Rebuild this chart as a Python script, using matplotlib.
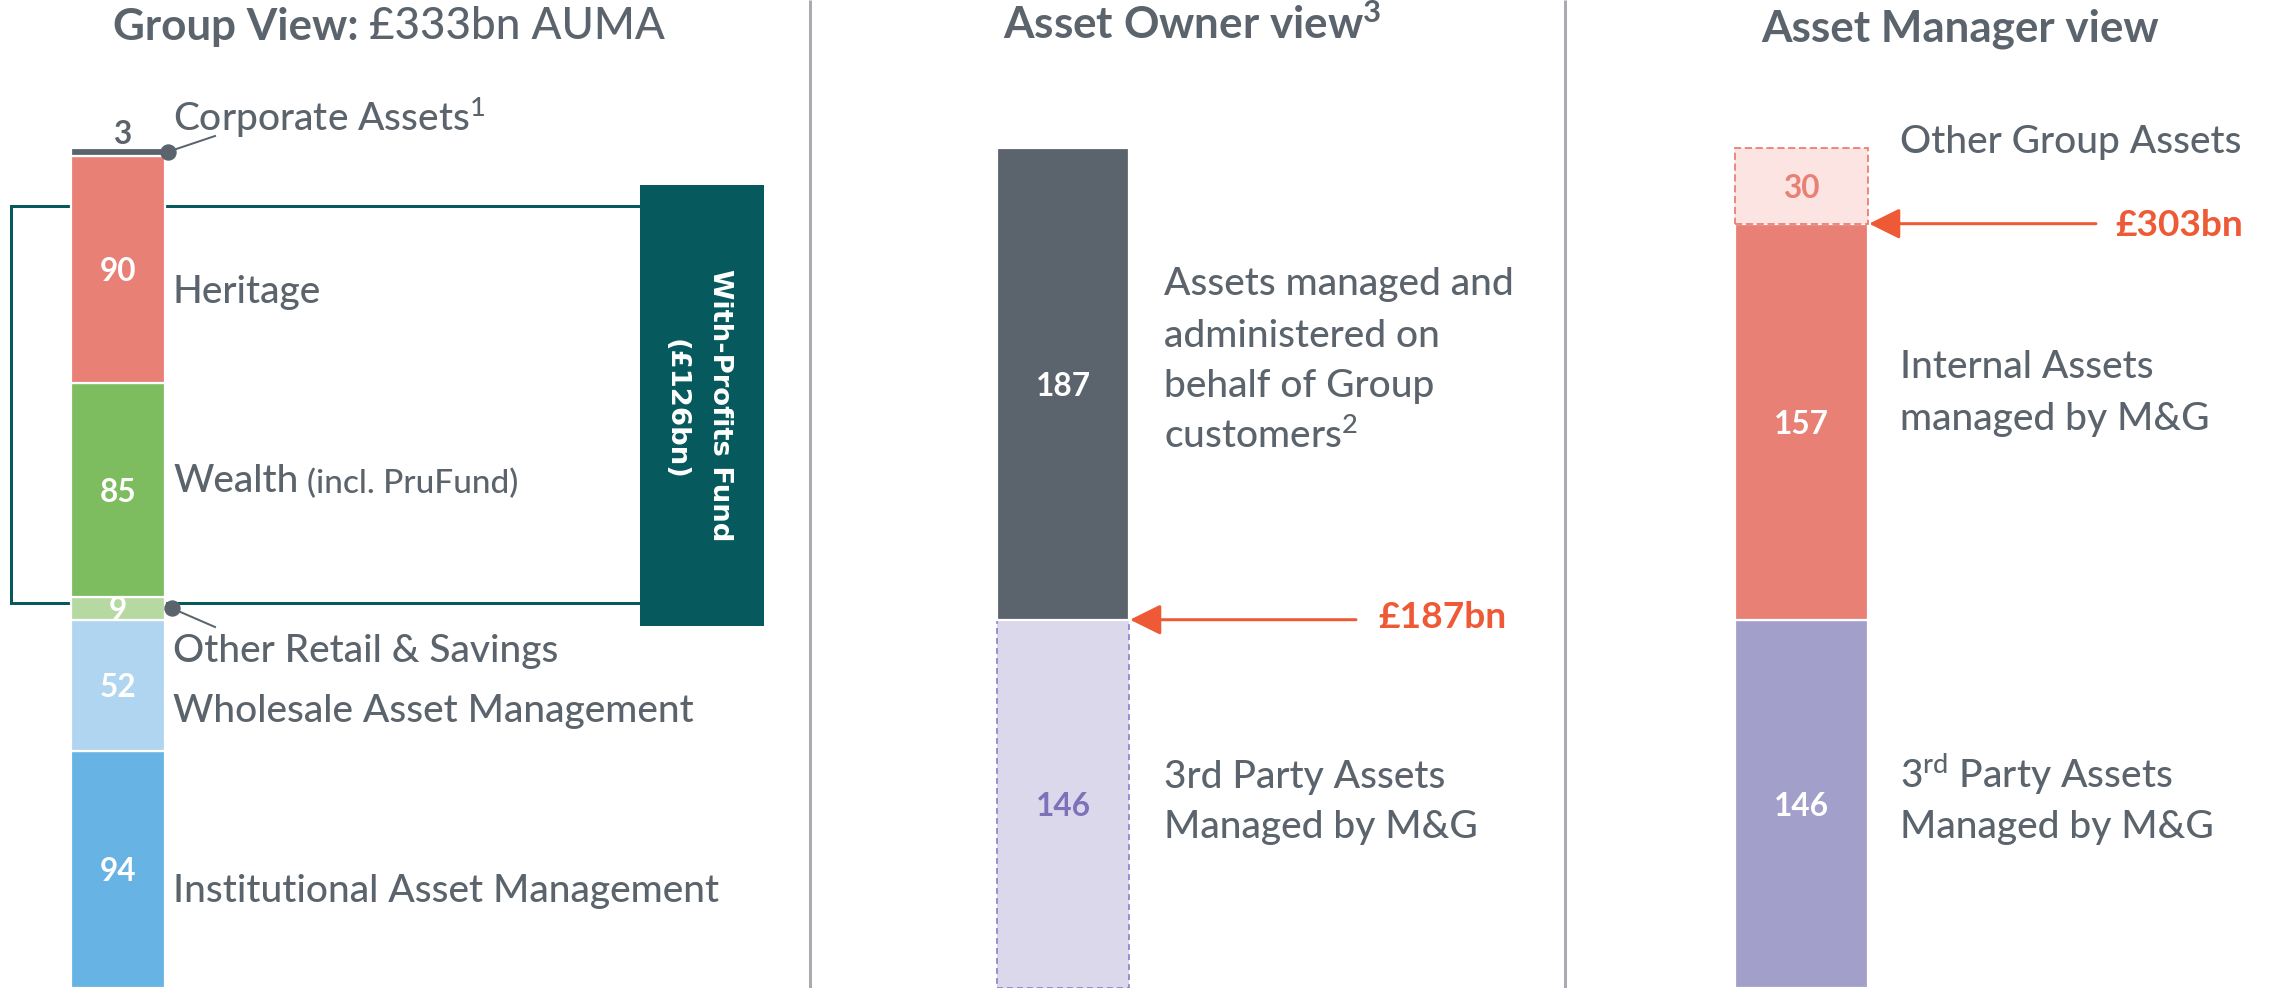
import numpy as np
import matplotlib
matplotlib.use("Agg")
import matplotlib.pyplot as plt
from matplotlib.patches import Rectangle

# ---------------- data (£bn) ----------------
group_categories = ["Institutional Asset Management", "Wholesale Asset Management",
                    "Other Retail & Savings", "Wealth", "Heritage", "Corporate Assets"]
group_values = [94, 52, 9, 85, 90, 3]

owner_categories = ["3rd Party Assets Managed by M&G",
                    "Assets managed and administered on behalf of Group customers"]
owner_values = [146, 187]

manager_categories = ["3rd Party Assets Managed by M&G",
                      "Internal Assets managed by M&G", "Other Group Assets"]
manager_values = [146, 157, 30]

with_profits_total = 126

# display text for labels (line broken as in the original)
group_label_text = ["Institutional Asset Management", "Wholesale Asset Management",
                    "Other Retail & Savings", "Wealth", "Heritage",
                    r"Corporate Assets$^{\mathrm{1}}$"]
owner_label_lines = [["3rd Party Assets", "Managed by M&G"],
                     ["Assets managed and", "administered on", "behalf of Group",
                      r"customers$^{\mathrm{2}}$"]]
manager_label_lines = [[r"3$^{\mathrm{rd}}$ Party Assets", "Managed by M&G"],
                       ["Internal Assets", "managed by M&G"],
                       ["Other Group Assets"]]

# ---------------- style ----------------
plt.rcParams['font.family'] = ['Lato', 'DejaVu Sans']
plt.rcParams['mathtext.fontset'] = 'custom'
plt.rcParams['mathtext.rm'] = 'Lato:medium'
plt.rcParams['mathtext.it'] = 'Lato:italic'
plt.rcParams['mathtext.bf'] = 'Lato:bold'

REG = 'medium'
GRAY = '#5B646C'
TEAL = '#065A5D'
ORANGE = '#EE5A35'
DIVIDER = '#A8ABB0'
SALMON = '#E88076'
group_colors = ['#66B3E4', '#AFD5F1', '#B5D9A1', '#7DBD5F', SALMON, GRAY]
group_value_colors = ['white', 'white', 'white', 'white', 'white', GRAY]
owner_colors = ['#DCD8EB', GRAY]
owner_value_colors = ['#7D72B9', 'white']
owner_dash_edge = '#8C7DC7'
manager_colors = ['#A39FCB', SALMON, '#FBE4E2']
manager_value_colors = ['white', 'white', SALMON]

W, H, DPI = 2270, 988, 100
S = 2.5225                      # pixels per £bn
PX = 72.0 / DPI                 # points per pixel

fig = plt.figure(figsize=(W / DPI, H / DPI), dpi=DPI)
fig.patch.set_facecolor('white')
ax = fig.add_axes([0, 0, 1, 1])
ax.set_xlim(0, W)
ax.set_ylim(0, H / S)
ax.axis('off')


def Y(py):
    """layout helper: pixel row from top -> axis units"""
    return (H - py) / S


renderer = fig.canvas.get_renderer()


def fit(text, target, **kw):
    t = fig.text(0, 0, text, fontsize=20, **kw)
    w = t.get_window_extent(renderer=renderer).width
    t.remove()
    return 20.0 * target / w


LABEL = float(np.mean([fit("Institutional Asset Management", 550, weight=REG),
                       fit("Other Group Assets", 336, weight=REG),
                       fit("Assets managed and", 352, weight=REG)]))
SMALL = LABEL * 0.86
VALUE = fit("187", 55, weight='bold')
ORANGE_SZ = fit("£187bn", 128, weight='bold')
TITLE = fit("Asset Manager view", 398, weight='bold')
BOX = fit("With-Profits Fund", 273, family='DejaVu Sans', weight='bold')

# bar geometry (layout)
gx, gw = 118, 94
ox, ow = 1063, 132
mx, mw = 1801.5, 133


def stacked(xc, width, values, faces):
    bottoms = np.concatenate([[0], np.cumsum(values)[:-1]])
    bars = ax.bar(np.full(len(values), xc), values, width=width, bottom=bottoms,
                  color=faces, edgecolor='white', linewidth=1.6, zorder=3)
    return list(bars), bottoms


# ---------------- dividers ----------------
for xd in (809.5, 1565):
    ax.plot([xd, xd], [0, H / S], color=DIVIDER, lw=3 * PX, zorder=1,
            solid_capstyle='butt')

# ---------------- titles ----------------
t_group = ax.text(113, Y(40), "Group View:", fontsize=TITLE, fontweight='bold',
                  color=GRAY, ha='left', va='baseline')
ax.annotate(f"£{sum(group_values)}bn AUMA", xy=(1, 0), xycoords=t_group,
            xytext=(10, 0), textcoords='offset pixels', fontsize=TITLE,
            fontweight=REG, color=GRAY, ha='left', va='bottom')
ax.text(1003, Y(39), r"Asset Owner view$^{\mathbf{3}}$", fontsize=TITLE,
        fontweight='bold', color=GRAY, ha='left', va='baseline')
ax.text(1761, Y(41), "Asset Manager view", fontsize=TITLE, fontweight='bold',
        color=GRAY, ha='left', va='baseline')

# ---------------- group view ----------------
# With-Profits bracket and box
ax.plot([640, 11, 11, 640], [Y(205.5), Y(205.5), Y(603), Y(603)],
        color=TEAL, lw=3 * PX, zorder=2, solid_joinstyle='miter')
ax.add_patch(Rectangle((640, Y(626)), 124, (626 - 185) / S, facecolor=TEAL,
                       edgecolor='none', zorder=3))
ax.text(720, Y(405), "With-Profits Fund", rotation=270, ha='center', va='center',
        color='white', family='DejaVu Sans', fontweight='bold', fontsize=BOX, zorder=4)
ax.text(676, Y(409), f"(£{with_profits_total}bn)", rotation=270, ha='center',
        va='center', color='white', family='DejaVu Sans', fontweight='bold',
        fontsize=BOX, zorder=4)

g_bars, g_bottoms = stacked(gx, gw, group_values, group_colors)
for i, (v, b) in enumerate(zip(group_values, g_bottoms)):
    if i == len(group_values) - 1:
        ax.annotate(str(v), xy=(gx + 4, b + v), xytext=(0, 4),
                    textcoords='offset pixels', ha='center', va='baseline',
                    fontsize=VALUE, fontweight='bold', color=group_value_colors[i],
                    zorder=6)
    else:
        ax.text(gx, b + v / 2, str(v), ha='center', va='center_baseline',
                fontsize=VALUE, fontweight='bold', color=group_value_colors[i],
                zorder=6)

# leader dots (Corporate Assets and Other Retail & Savings)
corp_y = g_bottoms[5] + group_values[5] / 2
ors_y = g_bottoms[2] + group_values[2] / 2
for dx, yv, ty in [(gx + gw / 2 + 3, corp_y, 136), (gx + gw / 2 + 7, ors_y, 627)]:
    ax.plot([dx, 215], [yv, Y(ty)], color=GRAY, lw=2 * PX, zorder=5)
    ax.plot([dx], [yv], 'o', ms=15 * PX, color=GRAY, zorder=6)

group_label_baselines = [902, 722, 662, 492, 303, 131]
g_txt = []
for txt, bl in zip(group_label_text, group_label_baselines):
    g_txt.append(ax.text(173, Y(bl), txt, fontsize=LABEL, fontweight=REG,
                         color=GRAY, ha='left', va='baseline'))
ax.annotate("(incl. PruFund)", xy=(1, 0), xycoords=g_txt[3], xytext=(9, 0),
            textcoords='offset pixels', fontsize=SMALL, fontweight=REG, color=GRAY,
            ha='left', va='bottom')

# ---------------- asset owner view ----------------
o_bars, o_bottoms = stacked(ox, ow, owner_values, owner_colors)
o_bars[0].set_edgecolor(owner_dash_edge)
o_bars[0].set_linestyle((0, (3.5, 2.5)))
o_bars[0].set_linewidth(1.2)
o_bars[1].set_zorder(4)
for i, (v, b) in enumerate(zip(owner_values, o_bottoms)):
    ax.text(ox, b + v / 2, str(v), ha='center', va='center_baseline',
            fontsize=VALUE, fontweight='bold', color=owner_value_colors[i], zorder=6)

owner_line_baselines = [[788, 838], [295, 347, 397, 448]]
for lines, bls in zip(owner_label_lines, owner_line_baselines):
    for txt, bl in zip(lines, bls):
        ax.text(1164, Y(bl), txt, fontsize=LABEL, fontweight=REG, color=GRAY,
                ha='left', va='baseline')

# ---------------- asset manager view ----------------
m_bars, m_bottoms = stacked(mx, mw, manager_values, manager_colors)
m_bars[2].set_edgecolor(SALMON)
m_bars[2].set_linestyle((0, (4, 2)))
m_bars[2].set_linewidth(1.3)
m_bars[2].set_zorder(5)
for i, (v, b) in enumerate(zip(manager_values, m_bottoms)):
    ax.text(mx, b + v / 2, str(v), ha='center', va='center_baseline',
            fontsize=VALUE, fontweight='bold', color=manager_value_colors[i], zorder=6)

manager_line_baselines = [[788, 838], [378, 430], [153]]
for lines, bls in zip(manager_label_lines, manager_line_baselines):
    for txt, bl in zip(lines, bls):
        ax.text(1900, Y(bl), txt, fontsize=LABEL, fontweight=REG, color=GRAY,
                ha='left', va='baseline')

# ---------------- arrows ----------------
owner_level = owner_values[1]
manager_level = manager_values[0] + manager_values[1]
arrows = [(ox + ow / 2 + 1, o_bottoms[1], 1356, 1378, 628, f"£{owner_level}bn"),
          (mx + mw / 2 + 1, m_bottoms[2], 2096, 2115, 236, f"£{manager_level}bn")]
for tip_x, yv, tail_x, lx, lb, txt in arrows:
    ax.annotate("", xy=(tip_x, yv), xytext=(tail_x, yv),
                arrowprops=dict(arrowstyle="-|>,head_length=0.95,head_width=0.47",
                                mutation_scale=20, color=ORANGE, lw=3 * PX,
                                shrinkA=0, shrinkB=0),
                zorder=7)
    ax.text(lx, Y(lb), txt, fontsize=ORANGE_SZ, fontweight='bold', color=ORANGE,
            ha='left', va='baseline')

fig.savefig("out.png", dpi=DPI, facecolor='white')
